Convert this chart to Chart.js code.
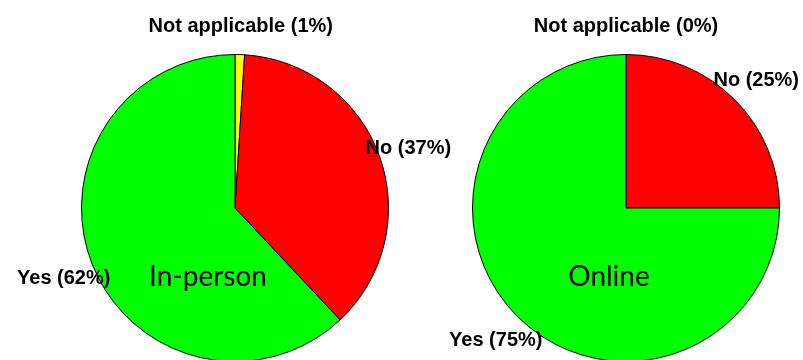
<!DOCTYPE html>
<html>
<head>
<meta charset="utf-8">
<script src="https://cdn.jsdelivr.net/npm/chart.js@4/dist/chart.umd.min.js"></script>
<style>
  html, body { margin: 0; padding: 0; background: #fff; overflow: hidden; }
  #wrap { position: relative; width: 803px; height: 360px; overflow: hidden; }
  #wrap canvas { position: absolute; left: 0; top: 0; }
</style>
</head>
<body>
<div id="wrap">
  <canvas id="inperson" width="803" height="364"></canvas>
  <canvas id="online" width="803" height="364"></canvas>
</div>
<script>
let ANSWERS = ['Not applicable', 'No', 'Yes'];
let IN_PERSON = [1, 37, 62];
let ONLINE = [0, 25, 75];
let MODES = ['In-person', 'Online'];
let COLORS = ['#ffff00', '#ff0000', '#00ff00'];

// writes "Answer (n%)" outside each slice and the mode name inside the pie
const sliceLabels = {
    id: 'sliceLabels',
    afterDraw(chart, args, opts) {
        const ctx = chart.ctx;
        const meta = chart.getDatasetMeta(0);
        const values = chart.data.datasets[0].data;
        ctx.save();
        ctx.fillStyle = '#000';
        ctx.textAlign = 'center';
        ctx.textBaseline = 'alphabetic';
        ctx.font = 'bold 20px "Liberation Sans", Arial, sans-serif';
        meta.data.forEach(function (arc, i) {
            const mid = (arc.startAngle + arc.endAngle) / 2;
            const r = arc.outerRadius * 1.2;
            const x = arc.x + Math.cos(mid) * r;
            const y = arc.y + Math.sin(mid) * r;
            ctx.fillText(chart.data.labels[i] + ' (' + values[i] + '%)', x, y + 8);
        });
        const c = meta.data[0];
        ctx.font = '28px Lato, "Open Sans", sans-serif';
        ctx.fillText(opts.caption, c.x + opts.dx, c.y + opts.dy);
        ctx.restore();
    }
};

function makePie(id, values, caption, dx, padding) {
    const ctx = document.getElementById(id).getContext('2d');
    return new Chart(ctx, {
        type: 'pie',
        data: {
            labels: ANSWERS,
            datasets: [{
                data: values,
                backgroundColor: COLORS,
                borderColor: '#000',
                borderWidth: 1
            }]
        },
        options: {
            responsive: false,
            animation: false,
            layout: { padding: padding },
            plugins: {
                legend: { display: false },
                tooltip: { enabled: false },
                sliceLabels: { caption: caption, dx: dx, dy: 78 }
            }
        },
        plugins: [sliceLabels]
    });
}

makePie('inperson', IN_PERSON, MODES[0], -27, { left: 81, right: 414, top: 54, bottom: 2 });
makePie('online', ONLINE, MODES[1], -17, { left: 472, right: 23, top: 54, bottom: 2 });
</script>
</body>
</html>
